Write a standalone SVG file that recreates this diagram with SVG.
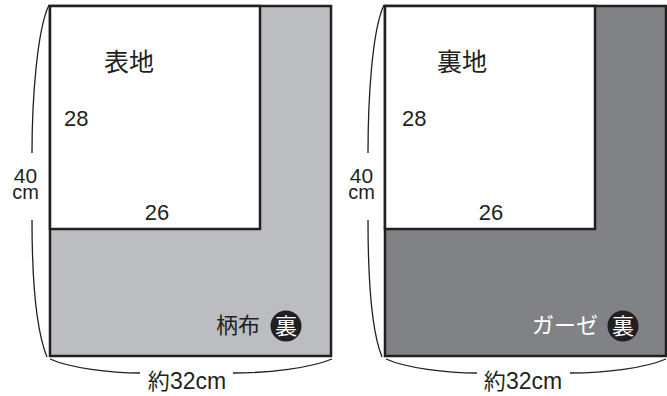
<svg xmlns="http://www.w3.org/2000/svg" width="667" height="396" viewBox="0 0 667 396">
<style>
.num{font-family:"Liberation Sans",Arial,sans-serif;font-size:22px;fill:#231f20}
.jp{font-family:"Noto Sans CJK JP","Noto Sans",sans-serif;fill:#231f20}
.frame{stroke:#231f20;stroke-width:2.5}
.inner{fill:#fff;stroke:#231f20;stroke-width:2.5}
.dim{fill:none;stroke:#231f20;stroke-width:1.3}
</style>
<rect width="667" height="396" fill="#fff"/>
<g id="panel-left">
<rect class="frame" x="50" y="6" width="281" height="350" fill="#bcbdc0"/>
<rect class="inner" x="50" y="6" width="210" height="223"/>
<text class="jp" x="129" y="71" font-size="25" text-anchor="middle">表地</text>
<text class="num" x="64" y="126">28</text>
<text class="num" x="157" y="220" text-anchor="middle">26</text>
<text class="jp" x="260" y="333" font-size="22" text-anchor="end">柄布</text>
<circle cx="286" cy="326" r="15.5" fill="#231f20"/>
<text class="jp" x="286" y="334" font-size="22" text-anchor="middle" style="fill:#fff">裏</text>
</g>
<g id="panel-right">
<rect class="frame" x="385" y="6" width="281" height="350" fill="#808285"/>
<rect class="inner" x="385" y="6" width="210" height="223"/>
<text class="jp" x="462" y="71" font-size="25" text-anchor="middle">裏地</text>
<text class="num" x="402" y="126">28</text>
<text class="num" x="491" y="220" text-anchor="middle">26</text>
<text class="jp" x="598" y="333" font-size="22" text-anchor="end" style="fill:#fff">ガーゼ</text>
<circle cx="623" cy="326" r="15.5" fill="#231f20"/>
<text class="jp" x="623" y="334" font-size="22" text-anchor="middle" style="fill:#fff">裏</text>
</g>
<g id="connectors">
<path class="dim" d="M49,5 C37,30 32,100 32,153"/>
<path class="dim" d="M32,220 C32,280 36,330 47,357"/>
<path class="dim" d="M50,359 C70,368 110,373 140,373"/>
<path class="dim" d="M233,373 C270,373 310,368 332,359"/>
<path class="dim" d="M384,5 C372,30 368,100 368,153"/>
<path class="dim" d="M368,220 C368,280 371,330 382,357"/>
<path class="dim" d="M386,359 C406,368 446,373 477,373"/>
<path class="dim" d="M570,373 C606,373 645,368 666,359"/>
</g>
<g id="labels">
<text class="num" text-anchor="middle"><tspan x="25.5" y="182.5" style="font-size:21px">40</tspan><tspan x="25.5" y="199" style="font-size:20px">cm</tspan></text>
<text class="num" text-anchor="middle"><tspan x="361.5" y="182.5" style="font-size:21px">40</tspan><tspan x="361.5" y="199" style="font-size:20px">cm</tspan></text>
<text x="187" y="389" text-anchor="middle"><tspan class="jp" style="font-size:22px">約</tspan><tspan class="num" style="font-size:23px">32cm</tspan></text>
<text x="523" y="389" text-anchor="middle"><tspan class="jp" style="font-size:22px">約</tspan><tspan class="num" style="font-size:23px">32cm</tspan></text>
</g>
</svg>
